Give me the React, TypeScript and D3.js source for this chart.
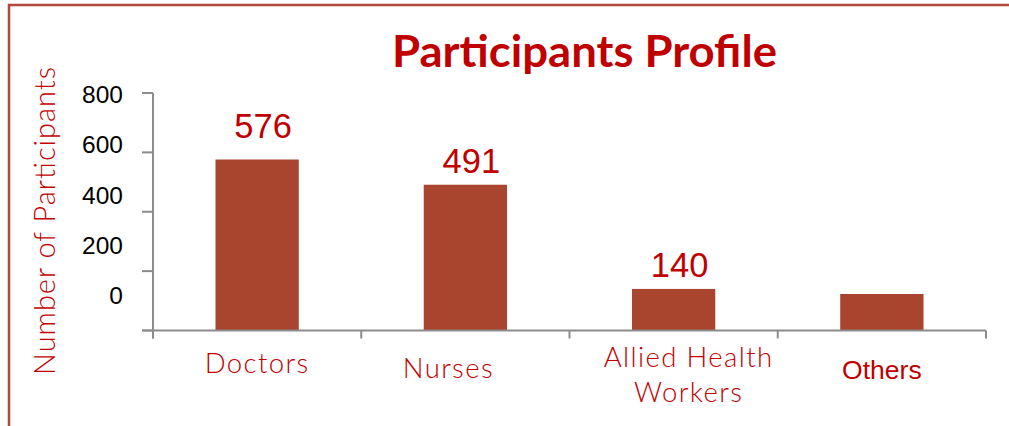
import * as d3 from 'd3';

const categories = ['Doctors', 'Nurses', 'Allied Health Workers', 'Others'];
const categoryLines = [['Doctors'], ['Nurses'], ['Allied Health', 'Workers'], ['Others']];
const participants = [576, 491, 140, 123];
const valueLabels = ['576', '491', '140', ''];
const yTicks = [0, 200, 400, 600, 800];

const W = 1009;
const H = 426;
const red = '#c00000';
const barColor = '#a9442f';
const axisColor = '#8c8c8c';

// plot area
const x0 = 153;
const x1 = 986;
const yBase = 330.5;
const yTop = 93;

export default function App() {
  const x = d3.scaleBand<string>().domain(categories).range([x0, x1]).paddingInner(0.6).paddingOuter(0.3);
  const bounds = d3.scaleBand<string>().domain(categories).range([x0, x1]);
  const y = d3.scaleLinear().domain([0, 800]).range([yBase, yTop]);
  // the tick labels in the original sit on a squeezed scale of their own
  const yLabel = d3.scaleLinear().domain([0, 800]).range([304, 103]);

  const boundaryTicks = [...categories.map((c) => bounds(c) as number), x1];
  const labelNudge = [-10, 0, 0, 0];
  const catBaseline = [373, 378, 367, 379];
  const catShift = [0, -17, 15, 0];

  return (
    <svg
      width={W}
      height={H}
      viewBox={`0 0 ${W} ${H}`}
      style={{ position: 'absolute', left: 0, top: 0, display: 'block', background: '#fff' }}
    >
      <path d={`M9,${H} L9,5 L${W},5`} fill="none" stroke="#b0473a" strokeWidth={2.5} />

      <text
        x={584.5}
        y={67}
        textAnchor="middle"
        fill={red}
        fontFamily="Lato, sans-serif"
        fontWeight={700}
        fontSize={43}
        textLength={385}
        lengthAdjust="spacingAndGlyphs"
      >
        Participants Profile
      </text>

      <text
        transform={`translate(55,221) rotate(-90)`}
        textAnchor="middle"
        fill={red}
        fontFamily="Lato, sans-serif"
        fontWeight={300}
        fontSize={29}
        textLength={308}
        lengthAdjust="spacing"
      >
        Number of Participants
      </text>

      {participants.map((v, i) => (
        <rect
          key={categories[i]}
          x={x(categories[i])}
          y={y(v)}
          width={x.bandwidth()}
          height={yBase - y(v)}
          fill={barColor}
        />
      ))}

      <g stroke={axisColor} strokeWidth={2} fill="none">
        <line x1={x0} x2={x0} y1={y(800)} y2={yBase + 8} />
        {yTicks.map((t) => (
          <line key={t} x1={142} x2={x0} y1={y(t)} y2={y(t)} />
        ))}
        <line x1={142} x2={x1} y1={yBase} y2={yBase} />
        {boundaryTicks.map((bx) => (
          <line key={bx} x1={bx} x2={bx} y1={yBase} y2={yBase + 8} />
        ))}
      </g>

      {yTicks.map((t) => (
        <text
          key={t}
          x={123}
          y={yLabel(t)}
          textAnchor="end"
          fontFamily="Liberation Sans, Arial, sans-serif"
          fontSize={24.5}
          fill="#000"
        >
          {t}
        </text>
      ))}

      {participants.map((v, i) => (
        <text
          key={categories[i]}
          x={(x(categories[i]) as number) + x.bandwidth() / 2 + 6}
          y={y(v) - 12 + labelNudge[i]}
          textAnchor="middle"
          fontFamily="Liberation Sans, Arial, sans-serif"
          fontSize={34.5}
          fill={red}
        >
          {valueLabels[i]}
        </text>
      ))}

      {categoryLines.map((lines, i) => {
        const cx = (x(categories[i]) as number) + x.bandwidth() / 2;
        const isOthers = categories[i] === 'Others';
        return (
          <text
            key={categories[i]}
            textAnchor="middle"
            fill={red}
            fontFamily={isOthers ? 'Liberation Sans, Arial, sans-serif' : 'Lato, sans-serif'}
            fontWeight={isOthers ? 400 : 300}
            fontSize={isOthers ? 26.5 : 27.5}
            letterSpacing={isOthers ? 0 : 1.4}
          >
            {lines.map((ln, j) => (
              <tspan key={ln} x={cx + catShift[i]} y={catBaseline[i] + j * 35}>
                {ln}
              </tspan>
            ))}
          </text>
        );
      })}
    </svg>
  );
}
